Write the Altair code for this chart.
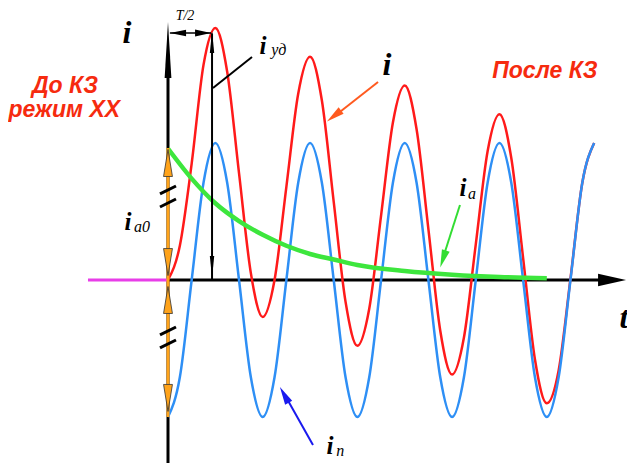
import altair as alt
import pandas as pd

# ---- data (time in periods T, current in units of the periodic amplitude) ----
T_SAMPLES = [0.0, 0.125, 0.25, 0.375, 0.5, 0.625, 0.75, 0.875,
             1.0, 1.125, 1.25, 1.375, 1.5, 1.625, 1.75, 1.875,
             2.0, 2.125, 2.25, 2.375, 2.5, 2.625, 2.75, 2.875,
             3.0, 3.125, 3.25, 3.375, 3.5, 3.625, 3.75, 3.875,
             4.0, 4.125, 4.25, 4.375, 4.5]
I_PERIODIC = [-1.0, -0.71, 0.0, 0.71, 1.0, 0.71, 0.0, -0.71,
              -1.0, -0.71, 0.0, 0.71, 1.0, 0.71, 0.0, -0.71,
              -1.0, -0.71, 0.0, 0.71, 1.0, 0.71, 0.0, -0.71,
              -1.0, -0.71, 0.0, 0.71, 1.0, 0.71, 0.0, -0.71,
              -1.0, -0.71, 0.0, 0.71, 1.0]
I_TOTAL = [0.0, 0.25, 0.85, 1.57, 1.84, 1.52, 0.78, 0.05,
           -0.27, 0.0, 0.68, 1.36, 1.63, 1.31, 0.57, -0.16,
           -0.48, -0.21, 0.47, 1.15, 1.42, 1.10, 0.37, -0.37,
           -0.69, -0.42, 0.26, 0.94, 1.21, 0.89, 0.16, -0.58,
           -0.90, -0.66, 0.01, 0.71, 1.0]
T_APER = [0.0, 0.25, 0.5, 0.75, 1.0, 1.25, 1.5, 1.75, 2.0, 2.5, 3.0, 3.5, 4.0]
I_APER = [0.96, 0.74, 0.56, 0.43, 0.33, 0.25, 0.19, 0.15, 0.11, 0.066, 0.039, 0.022, 0.013]
T_BEFORE = [-0.845, 0.0]
I_BEFORE = [0.0, 0.0]

XS = alt.Scale(domain=[-1.6895, 4.8469], nice=False, zero=False)
YS = alt.Scale(domain=[-1.3358, 1.9854], nice=False, zero=False)


def enc(ch, t="t", v="v"):
    return ch.encode(x=alt.X(f"{t}:Q", scale=XS, axis=None),
                     y=alt.Y(f"{v}:Q", scale=YS, axis=None))


def seg(rows, color, width):
    df = pd.DataFrame(rows, columns=["t", "v", "t2", "v2"])
    return alt.Chart(df).mark_rule(color=color, strokeWidth=width).encode(
        x=alt.X("t:Q", scale=XS, axis=None), y=alt.Y("v:Q", scale=YS, axis=None),
        x2="t2:Q", y2="v2:Q")


def head(rows, path, size, color, angle=0, stroke=None):
    df = pd.DataFrame(rows, columns=["t", "v"])
    kw = dict(shape=path, size=size, filled=True, color=color, opacity=1, angle=angle)
    if stroke:
        kw.update(stroke=stroke, strokeWidth=0.8)
    else:
        kw.update(strokeWidth=0)
    return enc(alt.Chart(df).mark_point(**kw))


def text(rows, size, color="black", italic=True, bold=False, font="Liberation Serif"):
    df = pd.DataFrame(rows, columns=["t", "v", "label"])
    return enc(alt.Chart(df).mark_text(
        font=font, fontSize=size, fontStyle="italic" if italic else "normal",
        fontWeight="bold" if bold else "normal", color=color,
        align="center", baseline="middle")).encode(text="label:N")


UP = "M0,-1L0.33,1L-0.33,1Z"
DOWN = "M0,1L0.33,-1L-0.33,-1Z"
RIGHT = "M1,0L-1,-0.45L-1,0.45Z"
LEFT = "M-1,0L1,-0.4L1,0.4Z"

curves = pd.DataFrame({"t": T_SAMPLES, "per": I_PERIODIC, "tot": I_TOTAL})
aper = pd.DataFrame({"t": T_APER, "v": I_APER})
before = pd.DataFrame({"t": T_BEFORE, "v": I_BEFORE})

layers = [
    # axes
    seg([[0.0, -1.36, 0.0, 1.60]], "black", 3),
    seg([[0.0, 0.0, 4.70, 0.0]], "black", 3),
    head([[0.0, 1.679]], "M0,-1L0.12,1L-0.12,1Z", 3136, "black"),
    head([[4.689, 0.0]], RIGHT, 784, "black"),
    enc(alt.Chart(before).mark_line(color="#e83ee8", strokeWidth=3)),
    # curves
    enc(alt.Chart(curves).mark_line(color="#ff1a1a", strokeWidth=2.5, interpolate="monotone"), v="tot"),
    enc(alt.Chart(curves).mark_line(color="#2e8ff5", strokeWidth=2.5, interpolate="monotone"), v="per"),
    enc(alt.Chart(aper).mark_line(color="#3de63d", strokeWidth=4.5, interpolate="monotone")),
    # i_a0 dimension
    seg([[0.0, 0.964, 0.0, -1.0]], "#ffa31a", 3),
    head([[0.0, 0.854], [0.0, -0.146]], UP, 729, "#ffa31a", stroke="#333333"),
    head([[0.0, 0.131], [0.0, -0.861]], DOWN, 729, "#ffa31a", stroke="#333333"),
    seg([[-0.0845, 0.628, 0.0845, 0.686], [-0.0845, 0.533, 0.0845, 0.591],
         [-0.0845, -0.401, 0.0845, -0.343], [-0.0845, -0.496, 0.0845, -0.438]], "black", 3),
    # T/2 dimension
    seg([[0.02, 1.803, 0.455, 1.803]], "black", 1.5),
    head([[0.106, 1.803]], LEFT, 256, "black"),
    head([[0.370, 1.803]], RIGHT, 256, "black"),
    # i_ud line
    seg([[0.465, 0.0, 0.465, 1.80]], "black", 2),
    head([[0.465, 1.737]], "M0,-1L0.2,1L-0.2,1Z", 484, "black"),
    head([[0.465, 0.095]], "M0,1L0.2,-1L-0.2,-1Z", 484, "black"),
    seg([[0.475, 1.401, 0.887, 1.628]], "black", 2),
    # pointer arrows
    seg([[2.218, 1.445, 1.774, 1.204]], "#ff5a1f", 2),
    head([[1.753, 1.197]], RIGHT, 324, "#ff5a1f", angle=142),
    seg([[3.083, 0.547, 2.914, 0.182]], "#33dd33", 2),
    head([[2.904, 0.153]], RIGHT, 324, "#33dd33", angle=108),
    seg([[1.531, -1.204, 1.246, -0.854]], "#1a1aee", 2),
    head([[1.228, -0.839]], RIGHT, 324, "#1a1aee", angle=241),
    # labels
    text([[-0.433, 1.80, "i"], [2.313, 1.57, "i"], [4.815, -0.28, "t"]], 32, bold=True),
    text([[1.003, 1.71, "i"], [3.115, 0.67, "i"], [1.711, -1.215, "i"], [-0.422, 0.423, "i"]], 25, bold=True),
    text([[1.17, 1.68, "уд"], [3.21, 0.63, "а"], [1.82, -1.25, "п"], [-0.275, 0.39, "а0"]], 16),
    text([[0.18, 1.930, "T/2"]], 14),
    text([[-1.088, 1.416, "До КЗ"], [-1.095, 1.24, "режим ХХ"], [3.98, 1.526, "После КЗ"]],
         23, color="#f62b0f", bold=True, font="Liberation Sans"),
]

chart = alt.layer(*layers).properties(
    width=619, height=455, padding=0, autosize=alt.AutoSizeParams(type="none"),
).configure_view(stroke=None)

chart.save("out.html", embed_options={"renderer": "svg", "actions": False})
